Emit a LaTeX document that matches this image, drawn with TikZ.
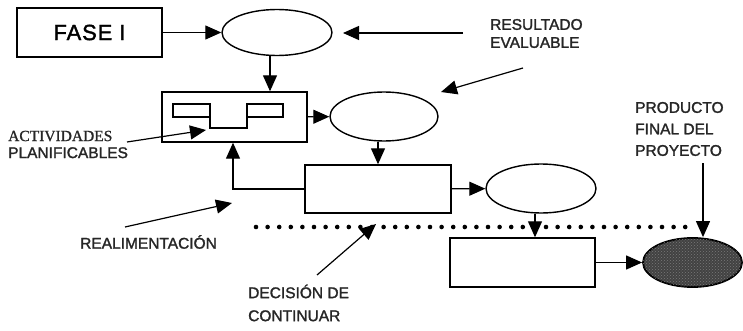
\documentclass[tikz,border=0pt]{standalone}
\usepackage{fontspec}
\setmainfont{Liberation Sans}
\newfontfamily\serifa{Liberation Serif}[FakeBold=1]
\newfontfamily\labelfont{Liberation Sans}[FakeBold=1.6]
\usetikzlibrary{shapes.geometric,arrows.meta,patterns}
\begin{document}
\begin{tikzpicture}[x=1pt,y=-1pt,
  every node/.style={inner sep=0pt},
  box/.style={draw,line width=1.4pt,rectangle},
  oval/.style={draw,line width=1.4pt,ellipse},
  arr/.style={line width=1.2pt,-{Triangle[length=16pt,width=14pt]}},
  lbl/.style={font=\labelfont\fontsize{15.5}{18}\selectfont,align=left,anchor=west,text=black!85},
]
\useasboundingbox (0,0) rectangle (743,331);

% main chain of phases and results
\node[box,minimum width=145pt,minimum height=49pt] (fase) at (89.5,32.5)
  {\labelfont\fontsize{22}{26}\selectfont\addfontfeature{LetterSpace=4}FASE I};
\node[oval,minimum width=110pt,minimum height=46pt] (e1) at (277,32.5) {};
\node[box,minimum width=145pt,minimum height=50pt] (act box) at (234.5,117) {};
\node[oval,minimum width=108pt,minimum height=49pt] (e2) at (384,116.5) {};
\node[box,minimum width=146pt,minimum height=48pt] (b3) at (378,189) {};
\node[oval,minimum width=110pt,minimum height=49pt] (e3) at (541,188.5) {};
\node[box,minimum width=145pt,minimum height=49pt] (b4) at (522.5,262.5) {};
% final product: dark, grainy fill
\node[oval,line width=1.8pt,fill=black!74,
  postaction={pattern=crosshatch dots,pattern color=black!52},
  minimum width=99pt,minimum height=49pt] (final) at (692.5,262.5) {};

% planned activities inside the second box
\draw[line width=1.2pt] (173,104) rectangle (210,117);
\draw[line width=1.2pt] (247,104) rectangle (283,117);
\draw[line width=1.2pt] (210,117) -- (210,128) -- (247,128) -- (247,117);

% labels
\node[lbl] (res) at (490,33.5) {RESULTADO\\EVALUABLE};
\node[lbl,font=\labelfont\fontsize{15.5}{21.5}\selectfont] (prod) at (635,129) {PRODUCTO\\FINAL DEL\\PROYECTO};
\node[lbl] (real) at (80,242) {REALIMENTACIÓN};
\node[lbl,font=\labelfont\fontsize{15.5}{23}\selectfont] (dec) at (248,303) {DECISIÓN DE\\CONTINUAR};
\node[lbl,font=\labelfont\fontsize{15.5}{17}\selectfont] (act) at (8,144.5) {{\serifa ACTIVIDADES}\\PLANIFICABLES};

% flow arrows
\draw[arr] (fase) -- (e1);
\draw[arr] ([xshift=-7pt]e1.south) -- ([xshift=-7pt]e1.south |- act box.north);
\draw[arr] (act box) -- (e2);
\draw[arr] ([xshift=-6pt]e2.south) -- ([xshift=-6pt]e2.south |- b3.north);
\draw[arr] (b3) -- (e3);
\draw[arr] ([xshift=-6pt]e3.south) -- ([xshift=-6pt]e3.south |- b4.north);
\draw[arr] (b4) -- (final);

% feedback loop
\coordinate (fb) at (233,189);
\draw[arr] (b3.west) -- (fb) -- (fb |- act box.south);

% decision line
\coordinate (dotL) at (256,227);
\coordinate (dotR) at (690,227);
\draw[line width=4.6pt,line cap=round,dash pattern=on 0pt off 11.6pt] (dotL) -- (dotR);

% pointers from the labels
\coordinate (resA) at (463,33);
\coordinate (resB) at (343,33);
\draw[arr] (resA) -- (resB);
\coordinate (resC) at (523,68);
\coordinate (resD) at (441,92);
\draw[arr] (resC) -- (resD);
\coordinate (actA) at (127,142);
\coordinate (actB) at (206,130);
\draw[arr] (actA) -- (actB);
\coordinate (realA) at (125,227);
\coordinate (realB) at (232,203);
\draw[arr] (realA) -- (realB);
\coordinate (decA) at (317,275);
\coordinate (decB) at (376,224);
\draw[arr] (decA) -- (decB);
\coordinate (prodA) at (703,163);
\draw[arr] (prodA) -- (prodA |- final.north);
\end{tikzpicture}
\end{document}
